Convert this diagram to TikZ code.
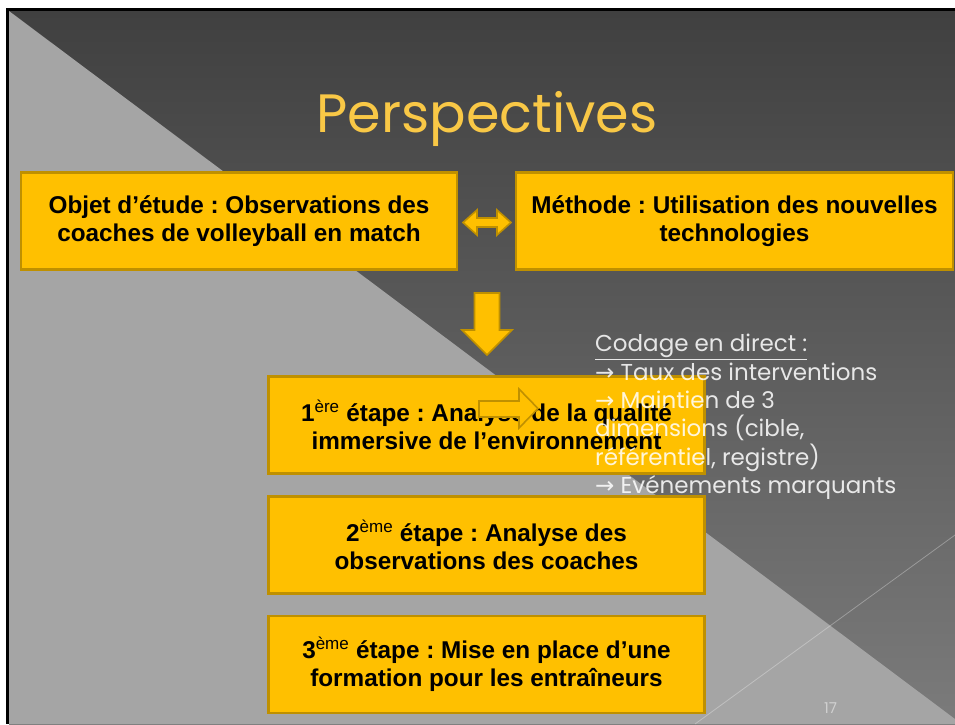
\documentclass[tikz,border=0pt]{standalone}
\usepackage{fontspec}
\setmainfont{Liberation Sans}
\newfontfamily\gothic{Poppins}
\newfontfamily\symfont{DejaVu Sans}
\definecolor{boxfill}{HTML}{FFC000}
\definecolor{boxline}{HTML}{BF9000}
\definecolor{lightbg}{HTML}{A5A5A5}
\definecolor{darktop}{HTML}{404040}
\definecolor{darkbot}{HTML}{7B7B7B}
\definecolor{titlecol}{HTML}{F9C846}
\definecolor{pagenum}{HTML}{D0D0D0}
\frenchspacing
\begin{document}
\begin{tikzpicture}[x=1pt,y=-1pt,
  stepbox/.style={draw=boxline, line width=2.2pt, fill=boxfill, minimum width=436pt, minimum height=97pt, inner sep=0pt, align=center, font=\fontsize{24.3}{28}\selectfont\bfseries, text=black},
  blockarrow/.style={draw=boxline, line width=1.6pt, fill=boxfill, line join=miter},
  notetext/.style={anchor=north west, align=left, inner sep=0pt, font=\gothic\fontsize{23}{28.4}\selectfont, text=white, text opacity=0.85}
  ]
\useasboundingbox (0,0) rectangle (955,724);
\fill[white] (0,0) rectangle (955,724);
\fill[black] (6,8) rectangle (955,724);
\shade[top color=darktop, bottom color=darkbot] (9,11) rectangle (955,724);
\fill[lightbg] (9,11) -- (955,719) -- (955,724) -- (9,724) -- cycle;
\draw[white, opacity=0.3, line width=0.8pt] (695,724) -- (955,535);

\node[font=\gothic\fontsize{54}{54}\selectfont, text=titlecol, anchor=base] (title) at (487,132) {Perspectives};

\node[stepbox] (obj) at (239,221) {Objet d’étude : Observations des\\coaches de volleyball en match};
\node[stepbox, minimum width=437pt] (meth) at (734.5,221) {Méthode : Utilisation des nouvelles\\technologies};
\node[stepbox] (s1) at (486.5,425) {1\textsuperscript{\mdseries ère} étape : Analyse de la qualité\\immersive de l’environnement};
\node[stepbox] (s2) at (486.5,545) {2\textsuperscript{\mdseries ème} étape : Analyse des\\observations des coaches};
\node[stepbox] (s3) at (486.5,664.5) {3\textsuperscript{\mdseries ème} étape : Mise en place d’une\\formation pour les entraîneurs};

\draw[blockarrow] (463,222.5) -- (477,210) -- (477,218) -- (497,218) -- (497,210) -- (511,222.5) -- (497,235) -- (497,227) -- (477,227) -- (477,235) -- cycle;
\draw[blockarrow] (474.5,293) -- (499.5,293) -- (499.5,330) -- (512,330) -- (487,355) -- (462,330) -- (474.5,330) -- cycle;
\draw[blockarrow] (479,401) -- (519,401) -- (519,389) -- (538,408.5) -- (519,428) -- (519,417) -- (479,417) -- cycle;

\node[notetext] (codage) at (595,334) {\underline{Codage en direct :}\\
{\symfont →} Taux des interventions\\
{\symfont →} Maintien de 3\\
dimensions (cible,\\
référentiel, registre)\\
{\symfont →} Evénements marquants};

\node[font=\gothic\fontsize{15}{15}\selectfont, text=pagenum, anchor=base] (pnum) at (830.5,713) {17};
\end{tikzpicture}
\end{document}
